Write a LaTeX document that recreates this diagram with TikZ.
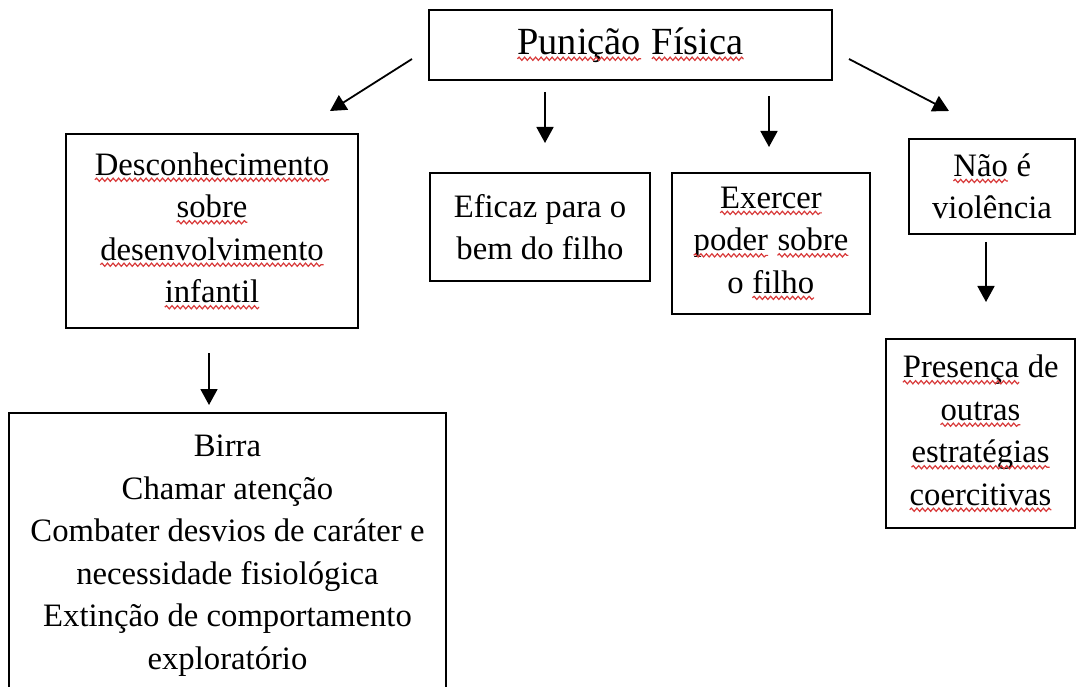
\documentclass[tikz,border=0pt]{standalone}
\usepackage{fontspec}
\setmainfont{Liberation Serif}
\usetikzlibrary{arrows.meta,decorations.pathmorphing}
\definecolor{squigred}{HTML}{D83A3A}
\newcommand\sq[1]{\tikz[baseline=(w.base),x=1pt,y=1pt]{\node[inner sep=0pt,outer sep=0pt,draw=none,fill=none,minimum width=0pt,minimum height=0pt,anchor=base] (w) {#1};\draw[squigred,line width=1.2pt,decorate,decoration={snake,segment length=5.5pt,amplitude=1.6pt}] ([yshift=-4.5pt]w.base west) -- ([yshift=-4.5pt]w.base east);}}
\tikzset{
  box/.style={draw=black,line width=1.8pt,inner sep=0pt,align=center,font=\fontsize{32.7}{42.5}\selectfont},
  arr/.style={line width=1.8pt,-{Triangle[length=16pt,width=17pt]}}
}
\begin{document}
\begin{tikzpicture}[x=1pt,y=-1pt]
\useasboundingbox (0,0) rectangle (1077,687);
\node[box,minimum width=403pt,minimum height=70pt,font=\fontsize{38.4}{46}\selectfont] (title) at (630.5,45) {\sq{Punição} \sq{Física}};
\node[box,minimum width=292pt,minimum height=194pt] (desc) at (212,231) {\sq{Desconhecimento}\\ \sq{sobre}\\ \sq{desenvolvimento}\\ \sq{infantil}};
\node[box,minimum width=220pt,minimum height=108pt] (efic) at (540,227) {Eficaz para o\\ bem do filho};
\node[box,minimum width=198pt,minimum height=141pt] (exer) at (771,243.5) {\sq{Exercer}\\ \sq{poder} \sq{sobre}\\ o \sq{filho}};
\node[box,minimum width=166pt,minimum height=95pt] (nao) at (992,186.5) {\sq{Não} é\\ violência};
\node[box,minimum width=189pt,minimum height=189pt] (pres) at (980.5,433.5) {\sq{Presença} de\\ \sq{outras}\\ \sq{estratégias}\\ \sq{coercitivas}};
\node[box,minimum width=437pt,minimum height=285pt] (bot) at (227.5,555.5) {Birra\\ Chamar atenção\\ Combater desvios de caráter e\\ necessidade fisiológica\\ Extinção de comportamento\\ exploratório};
\coordinate (a1s) at (412,59); \coordinate (a1e) at (330,111);
\coordinate (a2s) at (545,92); \coordinate (a2e) at (545,143);
\coordinate (a3s) at (769,96); \coordinate (a3e) at (769,147);
\coordinate (a4s) at (849,59); \coordinate (a4e) at (949,111);
\coordinate (a5s) at (986,242); \coordinate (a5e) at (986,302);
\coordinate (a6s) at (209,353); \coordinate (a6e) at (209,405);
\draw[arr] (a1s) -- (a1e);
\draw[arr] (a2s) -- (a2e);
\draw[arr] (a3s) -- (a3e);
\draw[arr] (a4s) -- (a4e);
\draw[arr] (a5s) -- (a5e);
\draw[arr] (a6s) -- (a6e);
\end{tikzpicture}
\end{document}
